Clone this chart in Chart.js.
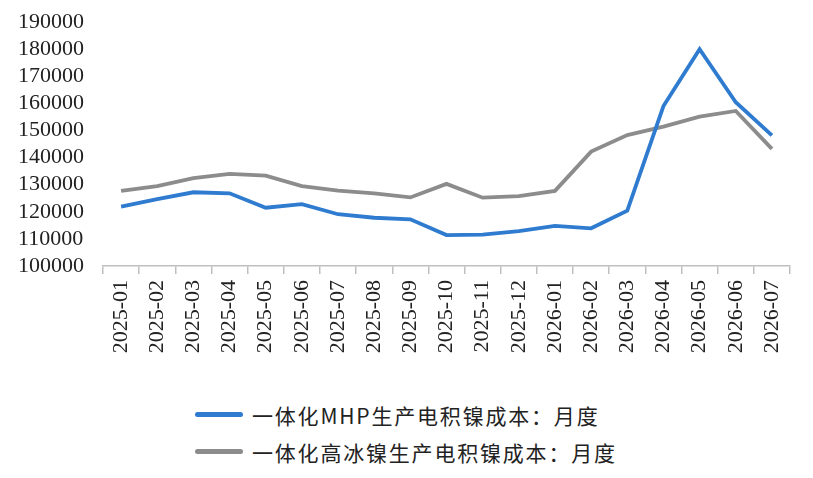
<!DOCTYPE html>
<html>
<head>
<meta charset="utf-8">
<script src="https://cdn.jsdelivr.net/npm/chart.js@4/dist/chart.umd.min.js"></script>
<style>
  html, body { margin: 0; padding: 0; background: #fff; }
  #wrap { position: relative; width: 813px; height: 478px; }
  #box { position: absolute; left: 0; top: 0; width: 813px; height: 380px; }
  #legend { position: absolute; left: 195px; top: 396px; font-family: "Noto Sans CJK SC", sans-serif; font-size: 21px; color: #222; letter-spacing: 1.8px; }
  .row { display: flex; align-items: center; height: 37px; }
  .swatch { width: 48px; height: 5px; border-radius: 3px; margin-right: 9px; }
</style>
</head>
<body>
<div id="wrap">
  <div id="box"><canvas id="line-chart"></canvas></div>
  <div id="legend"></div>
</div>
<script>
// Line Chart

const months = [
  "2025-01", "2025-02", "2025-03", "2025-04", "2025-05", "2025-06", "2025-07",
  "2025-08", "2025-09", "2025-10", "2025-11", "2025-12", "2026-01", "2026-02",
  "2026-03", "2026-04", "2026-05", "2026-06", "2026-07",
];
const mhpCost = [
  121900, 124700, 127200, 126800, 121500, 122800, 119100, 117800, 117200,
  111400, 111600, 112900, 114800, 113900, 120400, 159000, 180000, 160400, 148200,
];
const mattCost = [
  127700, 129500, 132400, 134000, 133300, 129500, 127800, 126800, 125300,
  130300, 125200, 125800, 127700, 142200, 148300, 151400, 155100, 157200, 143200,
];
const seriesNames = ["一体化MHP生产电积镍成本：月度", "一体化高冰镍生产电积镍成本：月度"];
const seriesColors = ["#2e7bcf", "#8c8c8c"];
const yTicks = [100000, 110000, 120000, 130000, 140000, 150000, 160000, 170000, 180000, 190000];

const ctx = document.getElementById("line-chart");

var myChart = new Chart(ctx, {
  type: "line",
  data: {
    labels: months,
    datasets: [{
        label: seriesNames[0],
        data: mhpCost,
        borderColor: seriesColors[0],
        backgroundColor: seriesColors[0],
        borderWidth: 3.8,
        pointRadius: 0,
        tension: 0,
      },
      {
        label: seriesNames[1],
        data: mattCost,
        borderColor: seriesColors[1],
        backgroundColor: seriesColors[1],
        borderWidth: 3.8,
        pointRadius: 0,
        tension: 0,
      },
    ],
  },
  options: {
    animation: false,
    responsive: true,
    maintainAspectRatio: false,
    layout: {
      padding: { top: 22, right: 23, left: 18, bottom: 0 },
    },
    plugins: {
      legend: { display: false },
      tooltip: { enabled: false },
    },
    scales: {
      x: {
        offset: true,
        afterFit: (scale) => { scale.height = 114; },
        border: { display: true, color: "#bfbfbf", width: 1.5 },
        grid: {
          offset: true,
          drawOnChartArea: false,
          drawTicks: true,
          tickLength: 8,
          color: "#bfbfbf",
          lineWidth: 1.5,
        },
        ticks: {
          minRotation: 90,
          maxRotation: 90,
          autoSkip: false,
          padding: 6,
          color: "#222",
          font: { family: "'Liberation Serif', serif", size: 22 },
        },
      },
      y: {
        min: 100000,
        max: 190000,
        afterFit: (scale) => { scale.width = 85; },
        afterBuildTicks: (scale) => { scale.ticks = yTicks.map((v) => ({ value: v })); },
        border: { display: false },
        grid: { display: false, drawTicks: false },
        ticks: {
          autoSkip: false,
          padding: 0,
          crossAlign: "far",
          color: "#222",
          font: { family: "'Liberation Serif', serif", size: 22 },
          callback: (value) => String(value),
        },
      },
    },
  },
});

// legend
const legendEl = document.getElementById("legend");
myChart.data.datasets.forEach((ds) => {
  const row = document.createElement("div");
  row.className = "row";
  const sw = document.createElement("span");
  sw.className = "swatch";
  sw.style.background = ds.borderColor;
  const txt = document.createElement("span");
  txt.textContent = ds.label;
  row.appendChild(sw);
  row.appendChild(txt);
  legendEl.appendChild(row);
});
</script>
</body>
</html>
